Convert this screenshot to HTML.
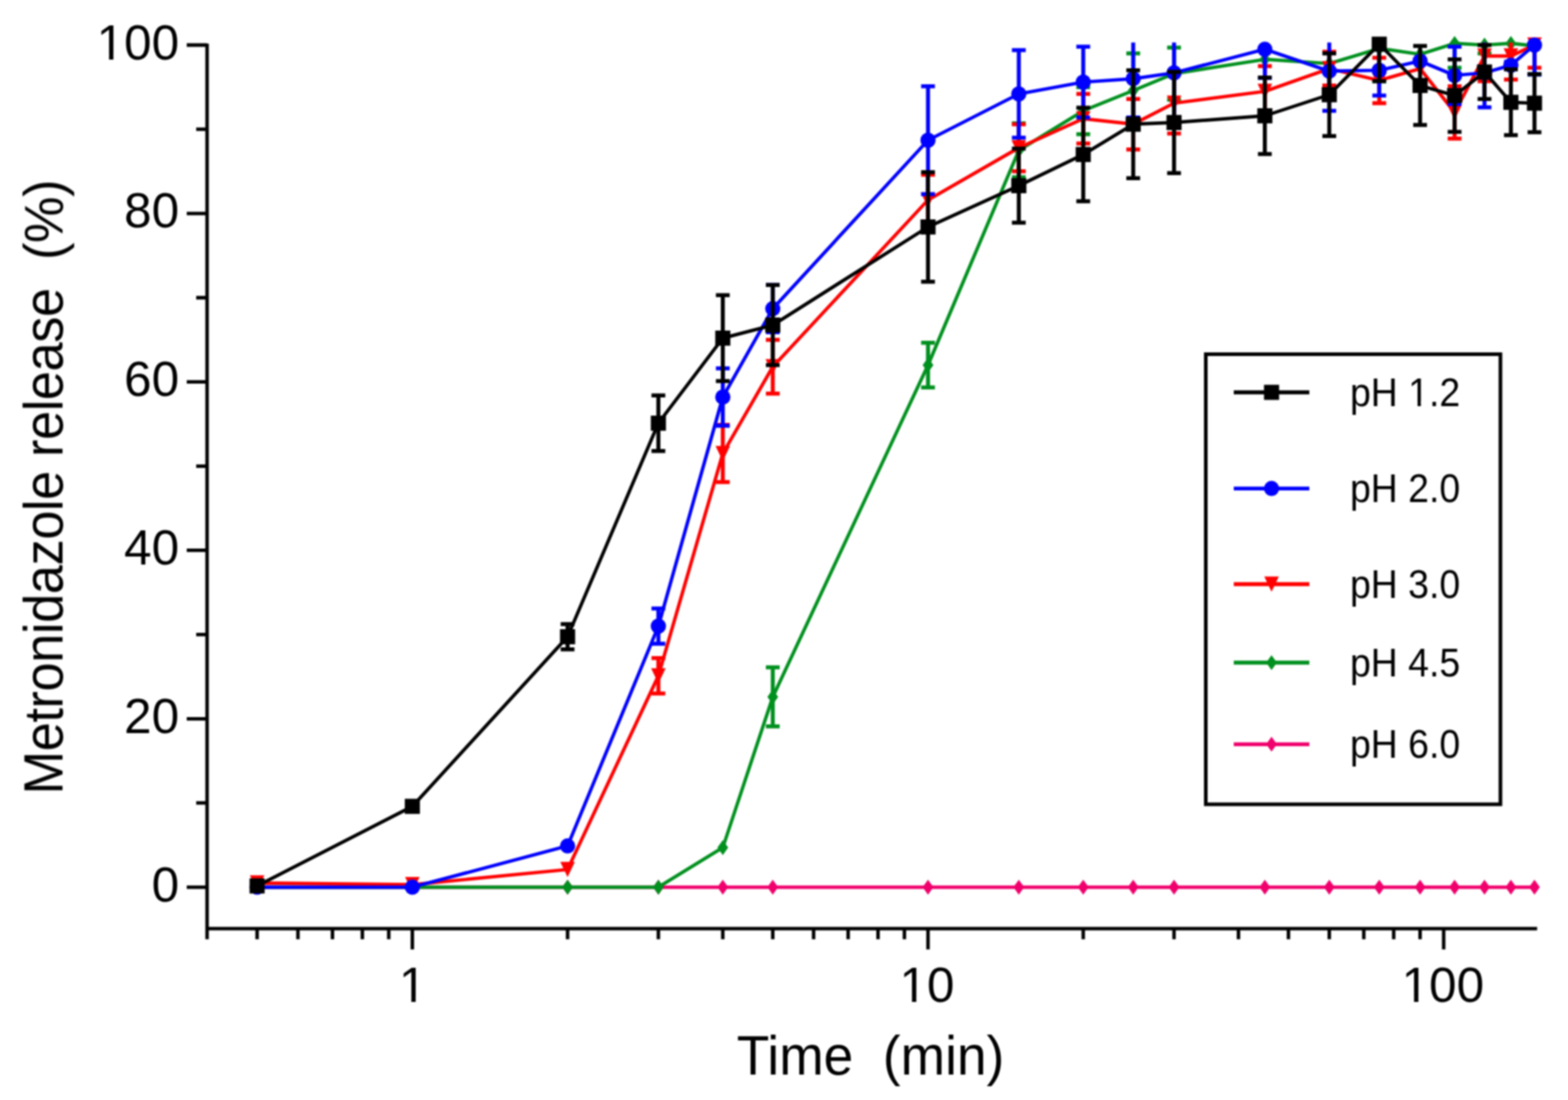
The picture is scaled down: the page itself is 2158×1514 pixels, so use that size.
<!DOCTYPE html>
<html><head><meta charset="utf-8"><title>Metronidazole release</title>
<style>html,body{margin:0;padding:0;background:#fff;}body{width:2158px;height:1514px;overflow:hidden;}svg{display:block;}text{font-family:"Liberation Sans",Arial,Helvetica,sans-serif;fill:#000;}</style>
</head><body>
<svg width="2158" height="1514" viewBox="0 0 2158 1514">
<rect width="2158" height="1514" fill="#fff"/>
<defs><filter id="soft" x="0" y="0" width="100%" height="100%" filterUnits="userSpaceOnUse" color-interpolation-filters="sRGB"><feGaussianBlur stdDeviation="0.9"/></filter></defs>
<g filter="url(#soft)">
<defs><clipPath id="pc"><rect x="285" y="58.5" width="1850.5" height="1219.7"/></clipPath></defs>
<path d="M285 60V1292.7M282.6 1278.2H2115.5M257 1221.1H285M270 1105.19H285M257 989.28H285M270 873.37H285M257 757.46H285M270 641.55H285M257 525.64H285M270 409.73H285M257 293.82H285M270 177.91H285M257 62H285M353.86 1278.2V1292.7M410.05 1278.2V1292.7M457.57 1278.2V1292.7M498.72 1278.2V1292.7M535.03 1278.2V1292.7M567.5 1278.2V1306.7M781.14 1278.2V1292.7M906.11 1278.2V1292.7M994.78 1278.2V1292.7M1063.56 1278.2V1292.7M1119.75 1278.2V1292.7M1167.27 1278.2V1292.7M1208.42 1278.2V1292.7M1244.73 1278.2V1292.7M1277.2 1278.2V1306.7M1490.84 1278.2V1292.7M1615.81 1278.2V1292.7M1704.48 1278.2V1292.7M1773.26 1278.2V1292.7M1829.45 1278.2V1292.7M1876.97 1278.2V1292.7M1918.12 1278.2V1292.7M1954.43 1278.2V1292.7M1986.9 1278.2V1306.7" stroke="#000" stroke-width="4.8" fill="none" stroke-linecap="butt"/>
<text x="246.47" y="1240.7" font-size="68" text-anchor="end">0</text>
<text x="246.47" y="1008.88" font-size="68" text-anchor="end">20</text>
<text x="246.47" y="777.06" font-size="68" text-anchor="end">40</text>
<text x="246.47" y="545.24" font-size="68" text-anchor="end">60</text>
<text x="246.47" y="313.42" font-size="68" text-anchor="end">80</text>
<text x="246.47" y="81.6" font-size="68" text-anchor="end">100</text>
<text x="549" y="1379.2" font-size="68">1</text>
<text x="1238" y="1379.2" font-size="68">10</text>
<text x="1929" y="1379.2" font-size="68">100</text>
<text x="1014" y="1478.8" font-size="73.4" transform="translate(0 1478.8) scale(1 1.045) translate(0 -1478.8)" xml:space="preserve">Time  (min)</text>
<text transform="translate(86 1093.5) rotate(-90) scale(1 1.044)" font-size="72" letter-spacing="-0.55" xml:space="preserve">Metronidazole release  (%)</text>
<polyline points="353.86,1221.1 567.5,1221.1 781.14,1221.1 906.11,1221.1 994.78,1221.1 1063.56,1221.1 1277.2,1221.1 1402.17,1221.1 1490.84,1221.1 1559.62,1221.1 1615.81,1221.1 1740.78,1221.1 1829.45,1221.1 1898.23,1221.1 1954.43,1221.1 2001.94,1221.1 2043.09,1221.1 2079.4,1221.1 2111.87,1221.1" stroke="#f0006c" stroke-width="4.7" fill="none" stroke-linejoin="round"/>
<path d="M353.86 1210.8L361.26 1221.1L353.86 1231.4L346.46 1221.1Z" fill="#f0006c"/><path d="M567.5 1210.8L574.9 1221.1L567.5 1231.4L560.1 1221.1Z" fill="#f0006c"/><path d="M781.14 1210.8L788.54 1221.1L781.14 1231.4L773.74 1221.1Z" fill="#f0006c"/><path d="M906.11 1210.8L913.51 1221.1L906.11 1231.4L898.71 1221.1Z" fill="#f0006c"/><path d="M994.78 1210.8L1002.18 1221.1L994.78 1231.4L987.38 1221.1Z" fill="#f0006c"/><path d="M1063.56 1210.8L1070.96 1221.1L1063.56 1231.4L1056.16 1221.1Z" fill="#f0006c"/><path d="M1277.2 1210.8L1284.6 1221.1L1277.2 1231.4L1269.8 1221.1Z" fill="#f0006c"/><path d="M1402.17 1210.8L1409.57 1221.1L1402.17 1231.4L1394.77 1221.1Z" fill="#f0006c"/><path d="M1490.84 1210.8L1498.24 1221.1L1490.84 1231.4L1483.44 1221.1Z" fill="#f0006c"/><path d="M1559.62 1210.8L1567.02 1221.1L1559.62 1231.4L1552.22 1221.1Z" fill="#f0006c"/><path d="M1615.81 1210.8L1623.21 1221.1L1615.81 1231.4L1608.41 1221.1Z" fill="#f0006c"/><path d="M1740.78 1210.8L1748.18 1221.1L1740.78 1231.4L1733.38 1221.1Z" fill="#f0006c"/><path d="M1829.45 1210.8L1836.85 1221.1L1829.45 1231.4L1822.05 1221.1Z" fill="#f0006c"/><path d="M1898.23 1210.8L1905.63 1221.1L1898.23 1231.4L1890.83 1221.1Z" fill="#f0006c"/><path d="M1954.43 1210.8L1961.83 1221.1L1954.43 1231.4L1947.03 1221.1Z" fill="#f0006c"/><path d="M2001.94 1210.8L2009.34 1221.1L2001.94 1231.4L1994.54 1221.1Z" fill="#f0006c"/><path d="M2043.09 1210.8L2050.49 1221.1L2043.09 1231.4L2035.69 1221.1Z" fill="#f0006c"/><path d="M2079.4 1210.8L2086.8 1221.1L2079.4 1231.4L2072 1221.1Z" fill="#f0006c"/><path d="M2111.87 1210.8L2119.27 1221.1L2111.87 1231.4L2104.47 1221.1Z" fill="#f0006c"/>
<polyline points="353.86,1221.1 567.5,1221.1 781.14,1221.1 906.11,1221.1 994.78,1166.62 1063.56,959.14 1277.2,502.46 1402.17,206.89 1490.84,152.41 1559.62,124.59 1615.81,101.41 1740.78,81.7 1829.45,87.5 1898.23,66.64 1954.43,74.75 2001.94,59.68 2043.09,62 2079.4,59.68 2111.87,63.16" stroke="#00901e" stroke-width="4.7" fill="none" stroke-linejoin="round"/>
<path d="M353.86 1210.8L361.26 1221.1L353.86 1231.4L346.46 1221.1Z" fill="#00901e"/><path d="M567.5 1210.8L574.9 1221.1L567.5 1231.4L560.1 1221.1Z" fill="#00901e"/><path d="M781.14 1210.8L788.54 1221.1L781.14 1231.4L773.74 1221.1Z" fill="#00901e"/><path d="M906.11 1210.8L913.51 1221.1L906.11 1231.4L898.71 1221.1Z" fill="#00901e"/><path d="M994.78 1156.32L1002.18 1166.62L994.78 1176.92L987.38 1166.62Z" fill="#00901e"/><path d="M1063.56 948.84L1070.96 959.14L1063.56 969.44L1056.16 959.14Z" fill="#00901e"/><path d="M1277.2 492.16L1284.6 502.46L1277.2 512.76L1269.8 502.46Z" fill="#00901e"/><path d="M1402.17 196.59L1409.57 206.89L1402.17 217.19L1394.77 206.89Z" fill="#00901e"/><path d="M1490.84 142.11L1498.24 152.41L1490.84 162.71L1483.44 152.41Z" fill="#00901e"/><path d="M1559.62 114.29L1567.02 124.59L1559.62 134.89L1552.22 124.59Z" fill="#00901e"/><path d="M1615.81 91.11L1623.21 101.41L1615.81 111.71L1608.41 101.41Z" fill="#00901e"/><path d="M1740.78 71.4L1748.18 81.7L1740.78 92L1733.38 81.7Z" fill="#00901e"/><path d="M1829.45 77.2L1836.85 87.5L1829.45 97.8L1822.05 87.5Z" fill="#00901e"/><path d="M1898.23 56.34L1905.63 66.64L1898.23 76.94L1890.83 66.64Z" fill="#00901e"/><path d="M1954.43 64.45L1961.83 74.75L1954.43 85.05L1947.03 74.75Z" fill="#00901e"/><path d="M2001.94 49.38L2009.34 59.68L2001.94 69.98L1994.54 59.68Z" fill="#00901e"/><path d="M2043.09 51.7L2050.49 62L2043.09 72.3L2035.69 62Z" fill="#00901e"/><path d="M2079.4 49.38L2086.8 59.68L2079.4 69.98L2072 59.68Z" fill="#00901e"/><path d="M2111.87 52.86L2119.27 63.16L2111.87 73.46L2104.47 63.16Z" fill="#00901e"/>
<path clip-path="url(#pc)" d="M1063.56 918.57V999.71M1054.06 918.57H1073.06M1054.06 999.71H1073.06M1277.2 471.74V533.17M1267.7 471.74H1286.7M1267.7 533.17H1286.7M1402.17 169.8V243.98M1392.67 169.8H1411.67M1392.67 243.98H1411.67M1490.84 119.95V184.86M1481.34 119.95H1500.34M1481.34 184.86H1500.34M1559.62 73.59V175.59M1550.12 73.59H1569.12M1550.12 175.59H1569.12M1615.81 65.48V137.34M1606.31 65.48H1625.31M1606.31 137.34H1625.31M1898.23 21.43V111.84M1888.73 21.43H1907.73M1888.73 111.84H1907.73M2001.94 26.07V93.3M1992.44 26.07H2011.44M1992.44 93.3H2011.44M2043.09 50.41V73.59M2033.59 50.41H2052.59M2033.59 73.59H2052.59M2111.87 23.75V102.57M2102.37 23.75H2121.37M2102.37 102.57H2121.37" stroke="#00901e" stroke-width="5.5" fill="none"/>
<polyline points="353.86,1215.3 567.5,1217.62 781.14,1196.76 906.11,930.17 994.78,624.16 1063.56,504.78 1277.2,275.27 1402.17,203.41 1490.84,163.42 1559.62,170.96 1615.81,141.98 1740.78,125.75 1829.45,94.45 1898.23,110.68 1954.43,94.45 2001.94,154.73 2043.09,77.07 2079.4,77.07 2111.87,62" stroke="#ff0000" stroke-width="4.7" fill="none" stroke-linejoin="round"/>
<path d="M343.86 1204.8H363.86L353.86 1225.8Z" fill="#ff0000"/><path d="M557.5 1207.12H577.5L567.5 1228.12Z" fill="#ff0000"/><path d="M771.14 1186.26H791.14L781.14 1207.26Z" fill="#ff0000"/><path d="M896.11 919.67H916.11L906.11 940.67Z" fill="#ff0000"/><path d="M984.78 613.66H1004.78L994.78 634.66Z" fill="#ff0000"/><path d="M1053.56 494.28H1073.56L1063.56 515.28Z" fill="#ff0000"/><path d="M1267.2 264.77H1287.2L1277.2 285.77Z" fill="#ff0000"/><path d="M1392.17 192.91H1412.17L1402.17 213.91Z" fill="#ff0000"/><path d="M1480.84 152.92H1500.84L1490.84 173.92Z" fill="#ff0000"/><path d="M1549.62 160.46H1569.62L1559.62 181.46Z" fill="#ff0000"/><path d="M1605.81 131.48H1625.81L1615.81 152.48Z" fill="#ff0000"/><path d="M1730.78 115.25H1750.78L1740.78 136.25Z" fill="#ff0000"/><path d="M1819.45 83.95H1839.45L1829.45 104.95Z" fill="#ff0000"/><path d="M1888.23 100.18H1908.23L1898.23 121.18Z" fill="#ff0000"/><path d="M1944.43 83.95H1964.43L1954.43 104.95Z" fill="#ff0000"/><path d="M1991.94 144.23H2011.94L2001.94 165.23Z" fill="#ff0000"/><path d="M2033.09 66.57H2053.09L2043.09 87.57Z" fill="#ff0000"/><path d="M2069.4 66.57H2089.4L2079.4 87.57Z" fill="#ff0000"/><path d="M2101.87 51.5H2121.87L2111.87 72.5Z" fill="#ff0000"/>
<path clip-path="url(#pc)" d="M906.11 905.82V954.51M896.61 905.82H915.61M896.61 954.51H915.61M994.78 584.75V663.57M985.28 584.75H1004.28M985.28 663.57H1004.28M1063.56 467.68V541.87M1054.06 467.68H1073.06M1054.06 541.87H1073.06M1277.2 240.5V310.05M1267.7 240.5H1286.7M1267.7 310.05H1286.7M1402.17 170.96V235.87M1392.67 170.96H1411.67M1392.67 235.87H1411.67M1490.84 129.23V197.61M1481.34 129.23H1500.34M1481.34 197.61H1500.34M1559.62 136.18V205.73M1550.12 136.18H1569.12M1550.12 205.73H1569.12M1615.81 100.25V183.71M1606.31 100.25H1625.31M1606.31 183.71H1625.31M1740.78 90.98V160.52M1731.28 90.98H1750.28M1731.28 160.52H1750.28M1829.45 71.27V117.64M1819.95 71.27H1838.95M1819.95 117.64H1838.95M1898.23 79.39V141.98M1888.73 79.39H1907.73M1888.73 141.98H1907.73M2001.94 118.8V190.66M1992.44 118.8H2011.44M1992.44 190.66H2011.44M2043.09 42.3V111.84M2033.59 42.3H2052.59M2033.59 111.84H2052.59M2079.4 44.61V109.52M2069.9 44.61H2088.9M2069.9 109.52H2088.9M2111.87 30.7V93.3M2102.37 30.7H2121.37M2102.37 93.3H2121.37" stroke="#ff0000" stroke-width="5.5" fill="none"/>
<polyline points="353.86,1221.1 567.5,1221.1 781.14,1164.3 906.11,861.78 994.78,546.5 1063.56,424.8 1277.2,192.98 1402.17,129.23 1490.84,113 1559.62,108.36 1615.81,100.25 1740.78,67.8 1829.45,97.93 1898.23,96.77 1954.43,84.02 2001.94,103.73 2043.09,100.25 2079.4,89.82 2111.87,62" stroke="#0000ff" stroke-width="4.7" fill="none" stroke-linejoin="round"/>
<circle cx="353.86" cy="1221.1" r="10.5" fill="#0000ff"/><circle cx="567.5" cy="1221.1" r="10.5" fill="#0000ff"/><circle cx="781.14" cy="1164.3" r="10.5" fill="#0000ff"/><circle cx="906.11" cy="861.78" r="10.5" fill="#0000ff"/><circle cx="994.78" cy="546.5" r="10.5" fill="#0000ff"/><circle cx="1063.56" cy="424.8" r="10.5" fill="#0000ff"/><circle cx="1277.2" cy="192.98" r="10.5" fill="#0000ff"/><circle cx="1402.17" cy="129.23" r="10.5" fill="#0000ff"/><circle cx="1490.84" cy="113" r="10.5" fill="#0000ff"/><circle cx="1559.62" cy="108.36" r="10.5" fill="#0000ff"/><circle cx="1615.81" cy="100.25" r="10.5" fill="#0000ff"/><circle cx="1740.78" cy="67.8" r="10.5" fill="#0000ff"/><circle cx="1829.45" cy="97.93" r="10.5" fill="#0000ff"/><circle cx="1898.23" cy="96.77" r="10.5" fill="#0000ff"/><circle cx="1954.43" cy="84.02" r="10.5" fill="#0000ff"/><circle cx="2001.94" cy="103.73" r="10.5" fill="#0000ff"/><circle cx="2043.09" cy="100.25" r="10.5" fill="#0000ff"/><circle cx="2079.4" cy="89.82" r="10.5" fill="#0000ff"/><circle cx="2111.87" cy="62" r="10.5" fill="#0000ff"/>
<path clip-path="url(#pc)" d="M906.11 837.44V886.12M896.61 837.44H915.61M896.61 886.12H915.61M994.78 507.09V585.91M985.28 507.09H1004.28M985.28 585.91H1004.28M1063.56 392.34V457.25M1054.06 392.34H1073.06M1054.06 457.25H1073.06M1277.2 118.8V267.16M1267.7 118.8H1286.7M1267.7 267.16H1286.7M1402.17 68.95V189.5M1392.67 68.95H1411.67M1392.67 189.5H1411.67M1490.84 64.32V161.68M1481.34 64.32H1500.34M1481.34 161.68H1500.34M1559.62 55.05V161.68M1550.12 55.05H1569.12M1550.12 161.68H1569.12M1615.81 34.18V166.32M1606.31 34.18H1625.31M1606.31 166.32H1625.31M1740.78 28.39V107.2M1731.28 28.39H1750.28M1731.28 107.2H1750.28M1829.45 43.45V152.41M1819.95 43.45H1838.95M1819.95 152.41H1838.95M1898.23 62V131.55M1888.73 62H1907.73M1888.73 131.55H1907.73M2001.94 64.32V143.14M1992.44 64.32H2011.44M1992.44 143.14H2011.44M2043.09 52.73V147.77M2033.59 52.73H2052.59M2033.59 147.77H2052.59M2079.4 85.18V94.45M2069.9 85.18H2088.9M2069.9 94.45H2088.9M2111.87 21.43V102.57M2102.37 21.43H2121.37M2102.37 102.57H2121.37" stroke="#0000ff" stroke-width="5.5" fill="none"/>
<polyline points="353.86,1219.36 567.5,1109.83 781.14,876.38 906.11,582.44 994.78,465.37 1063.56,447.4 1277.2,312.37 1402.17,255.57 1490.84,212.68 1559.62,170.96 1615.81,168.64 1740.78,159.36 1829.45,130.39 1898.23,60.84 1954.43,117.64 2001.94,131.55 2043.09,99.09 2079.4,140.82 2111.87,141.98" stroke="#000000" stroke-width="4.7" fill="none" stroke-linejoin="round"/>
<rect x="343.46" y="1208.96" width="20.8" height="20.8" fill="#000000"/><rect x="557.1" y="1099.43" width="20.8" height="20.8" fill="#000000"/><rect x="770.74" y="865.98" width="20.8" height="20.8" fill="#000000"/><rect x="895.71" y="572.04" width="20.8" height="20.8" fill="#000000"/><rect x="984.38" y="454.97" width="20.8" height="20.8" fill="#000000"/><rect x="1053.16" y="437" width="20.8" height="20.8" fill="#000000"/><rect x="1266.8" y="301.97" width="20.8" height="20.8" fill="#000000"/><rect x="1391.77" y="245.17" width="20.8" height="20.8" fill="#000000"/><rect x="1480.44" y="202.28" width="20.8" height="20.8" fill="#000000"/><rect x="1549.22" y="160.56" width="20.8" height="20.8" fill="#000000"/><rect x="1605.41" y="158.24" width="20.8" height="20.8" fill="#000000"/><rect x="1730.38" y="148.96" width="20.8" height="20.8" fill="#000000"/><rect x="1819.05" y="119.99" width="20.8" height="20.8" fill="#000000"/><rect x="1887.83" y="50.44" width="20.8" height="20.8" fill="#000000"/><rect x="1944.03" y="107.24" width="20.8" height="20.8" fill="#000000"/><rect x="1991.54" y="121.15" width="20.8" height="20.8" fill="#000000"/><rect x="2032.69" y="88.69" width="20.8" height="20.8" fill="#000000"/><rect x="2069" y="130.42" width="20.8" height="20.8" fill="#000000"/><rect x="2101.47" y="131.58" width="20.8" height="20.8" fill="#000000"/>
<path clip-path="url(#pc)" d="M781.14 859V893.77M771.64 859H790.64M771.64 893.77H790.64M906.11 544.19V620.69M896.61 544.19H915.61M896.61 620.69H915.61M994.78 406.25V524.48M985.28 406.25H1004.28M985.28 524.48H1004.28M1063.56 392.34V502.46M1054.06 392.34H1073.06M1054.06 502.46H1073.06M1277.2 237.02V387.71M1267.7 237.02H1286.7M1267.7 387.71H1286.7M1402.17 204.57V306.57M1392.67 204.57H1411.67M1392.67 306.57H1411.67M1490.84 148.35V277.01M1481.34 148.35H1500.34M1481.34 277.01H1500.34M1559.62 96.77V245.14M1550.12 96.77H1569.12M1550.12 245.14H1569.12M1615.81 99.09V238.18M1606.31 99.09H1625.31M1606.31 238.18H1625.31M1740.78 106.63V212.1M1731.28 106.63H1750.28M1731.28 212.1H1750.28M1829.45 73.59V187.18M1819.95 73.59H1838.95M1819.95 187.18H1838.95M1898.23 9.84V111.84M1888.73 9.84H1907.73M1888.73 111.84H1907.73M1954.43 63.16V172.11M1944.93 63.16H1963.93M1944.93 172.11H1963.93M2001.94 81.7V181.39M1992.44 81.7H2011.44M1992.44 181.39H2011.44M2043.09 62V136.18M2033.59 62H2052.59M2033.59 136.18H2052.59M2079.4 95.61V186.02M2069.9 95.61H2088.9M2069.9 186.02H2088.9M2111.87 101.99V181.97M2102.37 101.99H2121.37M2102.37 181.97H2121.37" stroke="#000000" stroke-width="5.5" fill="none"/>
<rect x="1659.5" y="487.5" width="405.5" height="619.5" fill="#fff" stroke="#000" stroke-width="5"/>
<path d="M1698 540H1802" stroke="#000000" stroke-width="5.3"/>
<rect x="1739.6" y="529.6" width="20.8" height="20.8" fill="#000000"/>
<text transform="translate(1857.905 558.5) scale(1 1.063)" font-size="51.5" xml:space="preserve">pH 1.2</text>
<path d="M1698 672.3H1802" stroke="#0000ff" stroke-width="5.3"/>
<circle cx="1750" cy="672.3" r="10.5" fill="#0000ff"/>
<text transform="translate(1857.905 690.8) scale(1 1.063)" font-size="51.5" xml:space="preserve">pH 2.0</text>
<path d="M1698 804H1802" stroke="#ff0000" stroke-width="5.3"/>
<path d="M1740 793.5H1760L1750 814.5Z" fill="#ff0000"/>
<text transform="translate(1857.905 822.5) scale(1 1.063)" font-size="51.5" xml:space="preserve">pH 3.0</text>
<path d="M1698 912H1802" stroke="#00901e" stroke-width="5.3"/>
<path d="M1750 901.7L1757.4 912L1750 922.3L1742.6 912Z" fill="#00901e"/>
<text transform="translate(1857.905 930.5) scale(1 1.063)" font-size="51.5" xml:space="preserve">pH 4.5</text>
<path d="M1698 1024.3H1802" stroke="#f0006c" stroke-width="5.3"/>
<path d="M1750 1014L1757.4 1024.3L1750 1034.6L1742.6 1024.3Z" fill="#f0006c"/>
<text transform="translate(1857.905 1042.8) scale(1 1.063)" font-size="51.5" xml:space="preserve">pH 6.0</text>
<rect x="137.38" y="75.32" width="12.72" height="7.28" fill="#fff"/><rect x="156.11" y="75.32" width="12.19" height="7.28" fill="#fff"/><rect x="553.38" y="1372.92" width="12.72" height="7.28" fill="#fff"/><rect x="572.11" y="1372.92" width="12.19" height="7.28" fill="#fff"/><rect x="1242.38" y="1372.92" width="12.72" height="7.28" fill="#fff"/><rect x="1261.11" y="1372.92" width="12.19" height="7.28" fill="#fff"/><rect x="1933.38" y="1372.92" width="12.72" height="7.28" fill="#fff"/><rect x="1952.11" y="1372.92" width="12.19" height="7.28" fill="#fff"/><rect x="1941.17" y="553.21" width="9.78" height="6.29" fill="#fff"/><rect x="1955.5" y="553.21" width="9.38" height="6.29" fill="#fff"/>
</g>
</svg></body></html>
